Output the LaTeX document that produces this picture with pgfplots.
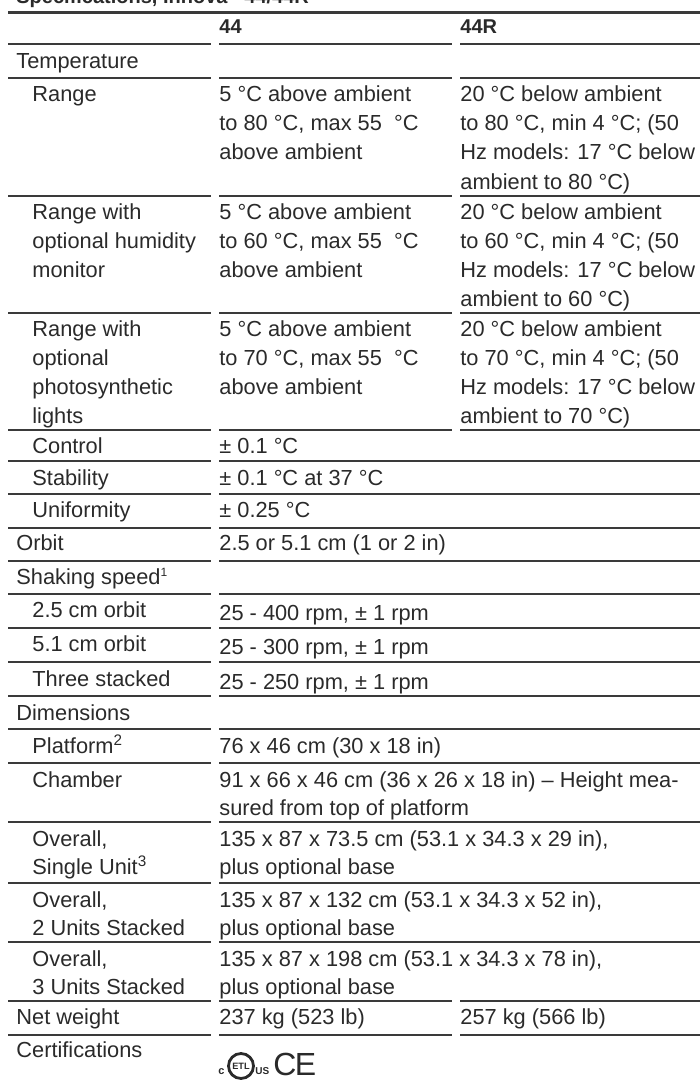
\documentclass[border=0pt]{standalone}
\usepackage{pgfplots}
\pgfplotsset{compat=1.18}
\usepackage{fontspec}
\setmainfont{Liberation Sans}
\definecolor{txt}{HTML}{2A2A2A}
\definecolor{rl}{HTML}{3A3A3A}
\newcommand{\T}[3]{\node[anchor=base west,inner sep=0pt,text=txt] at (axis cs:#1,#2) {#3};}
\newcommand{\B}[3]{\node[anchor=base west,inner sep=0pt,text=txt,font=\bfseries] at (axis cs:#1,#2) {#3};}
\begin{document}
\begin{tikzpicture}
\begin{axis}[
  scale only axis, width=350pt, height=540.5pt,
  xmin=0, xmax=700, ymin=0, ymax=1081, y dir=reverse,
  axis line style={draw=none}, xtick=\empty, ytick=\empty,
  clip=true, clip bounding box=upper bound,
  font=\fontsize{10.9pt}{13pt}\selectfont,
  rule/.style={rl, line width=0.75pt, forget plot},
]
% title (clipped at top, as in the reference)
\B{16}{4}{Specifications, Innova\textsuperscript{®} 44/44R}
% thick top rule
\addplot[rl, line width=1.6pt] coordinates {(8,12.5) (700,12.5)};
% separate rules (three columns)
\foreach \yy in {44,78,196,313,430,1001,1035} {
  \edef\tmp{\noexpand\addplot[rule] coordinates {(8,\yy) (211,\yy)};
  \noexpand\addplot[rule] coordinates {(219,\yy) (452,\yy)};
  \noexpand\addplot[rule] coordinates {(460,\yy) (700,\yy)};}
  \tmp
}
% rules with spanning value column
\foreach \yy in {461,494,528,561,594,628,662,696,729,763,822,883,942} {
  \edef\tmp{\noexpand\addplot[rule] coordinates {(8,\yy) (211,\yy)};
  \noexpand\addplot[rule] coordinates {(219,\yy) (700,\yy)};}
  \tmp
}
% header
\B{219}{34}{44}
\B{460}{34}{44R}
% Temperature
\T{16}{69}{Temperature}
\T{32}{102}{Range}
\T{219}{102}{5 °C above ambient}
\T{219}{131}{to 80 °C, max 55\ \ °C}
\T{219}{160}{above ambient}
\T{460}{102}{20 °C below ambient}
\T{460}{131}{to 80 °C, min 4 °C; (50}
\T{460}{160}{Hz models: 17 °C below}
\T{460}{189}{ambient to 80 °C)}
\T{32}{219}{Range with}
\T{32}{248}{optional humidity}
\T{32}{277}{monitor}
\T{219}{219}{5 °C above ambient}
\T{219}{248}{to 60 °C, max 55\ \ °C}
\T{219}{277}{above ambient}
\T{460}{219}{20 °C below ambient}
\T{460}{248}{to 60 °C, min 4 °C; (50}
\T{460}{277}{Hz models: 17 °C below}
\T{460}{306}{ambient to 60 °C)}
\T{32}{336}{Range with}
\T{32}{365}{optional}
\T{32}{394}{photosynthetic}
\T{32}{423}{lights}
\T{219}{336}{5 °C above ambient}
\T{219}{365}{to 70 °C, max 55\ \ °C}
\T{219}{394}{above ambient}
\T{460}{336}{20 °C below ambient}
\T{460}{365}{to 70 °C, min 4 °C; (50}
\T{460}{394}{Hz models: 17 °C below}
\T{460}{423}{ambient to 70 °C)}
\T{32}{453}{Control}
\T{219}{453}{± 0.1 °C}
\T{32}{485}{Stability}
\T{219}{485}{± 0.1 °C at 37 °C}
\T{32}{517}{Uniformity}
\T{219}{517}{± 0.25 °C}
\T{16}{550}{Orbit}
\T{219}{550}{2.5 or 5.1 cm (1 or 2 in)}
\T{16}{584}{Shaking speed\textsuperscript{\fontsize{6pt}{6pt}\selectfont 1}}
\T{32}{617}{2.5 cm orbit}
\T{219}{620}{25 - 400 rpm, ± 1 rpm}
\T{32}{651}{5.1 cm orbit}
\T{219}{654}{25 - 300 rpm, ± 1 rpm}
\T{32}{686}{Three stacked}
\T{219}{689}{25 - 250 rpm, ± 1 rpm}
\T{16}{720}{Dimensions}
\T{32}{753}{Platform\textsuperscript{2}}
\T{219}{753}{76 x 46 cm (30 x 18 in)}
\T{32}{787}{Chamber}
\T{219}{787}{91 x 66 x 46 cm (36 x 26 x 18 in) – Height mea-}
\T{219}{815}{sured from top of platform}
\T{32}{846}{Overall,}
\T{32}{874}{Single Unit\textsuperscript{3}}
\T{219}{846}{135 x 87 x 73.5 cm (53.1 x 34.3 x 29 in),}
\T{219}{874}{plus optional base}
\T{32}{907}{Overall,}
\T{32}{935}{2 Units Stacked}
\T{219}{907}{135 x 87 x 132 cm (53.1 x 34.3 x 52 in),}
\T{219}{935}{plus optional base}
\T{32}{966}{Overall,}
\T{32}{994}{3 Units Stacked}
\T{219}{966}{135 x 87 x 198 cm (53.1 x 34.3 x 78 in),}
\T{219}{994}{plus optional base}
\T{16}{1024}{Net weight}
\T{219}{1024}{237 kg (523 lb)}
\T{460}{1024}{257 kg (566 lb)}
\T{16}{1057}{Certifications}
% logos
\node[circle, draw=txt, line width=1.4pt, minimum size=12.5pt, inner sep=0pt, text=txt, font=\bfseries\fontsize{4.6pt}{4.6pt}\selectfont] at (axis cs:241,1066) {ETL};
\node[anchor=base west, inner sep=0pt, text=txt, font=\bfseries\fontsize{5.5pt}{5.5pt}\selectfont] at (axis cs:218,1074) {c};
\node[anchor=base west, inner sep=0pt, text=txt, font=\bfseries\fontsize{5pt}{5pt}\selectfont] at (axis cs:255,1074) {US};
\node[anchor=base west, inner sep=0pt, text=txt, font=\fontsize{16pt}{16pt}\selectfont] at (axis cs:273,1075) {C\kern-0.8pt E};
\end{axis}
\end{tikzpicture}
\end{document}
